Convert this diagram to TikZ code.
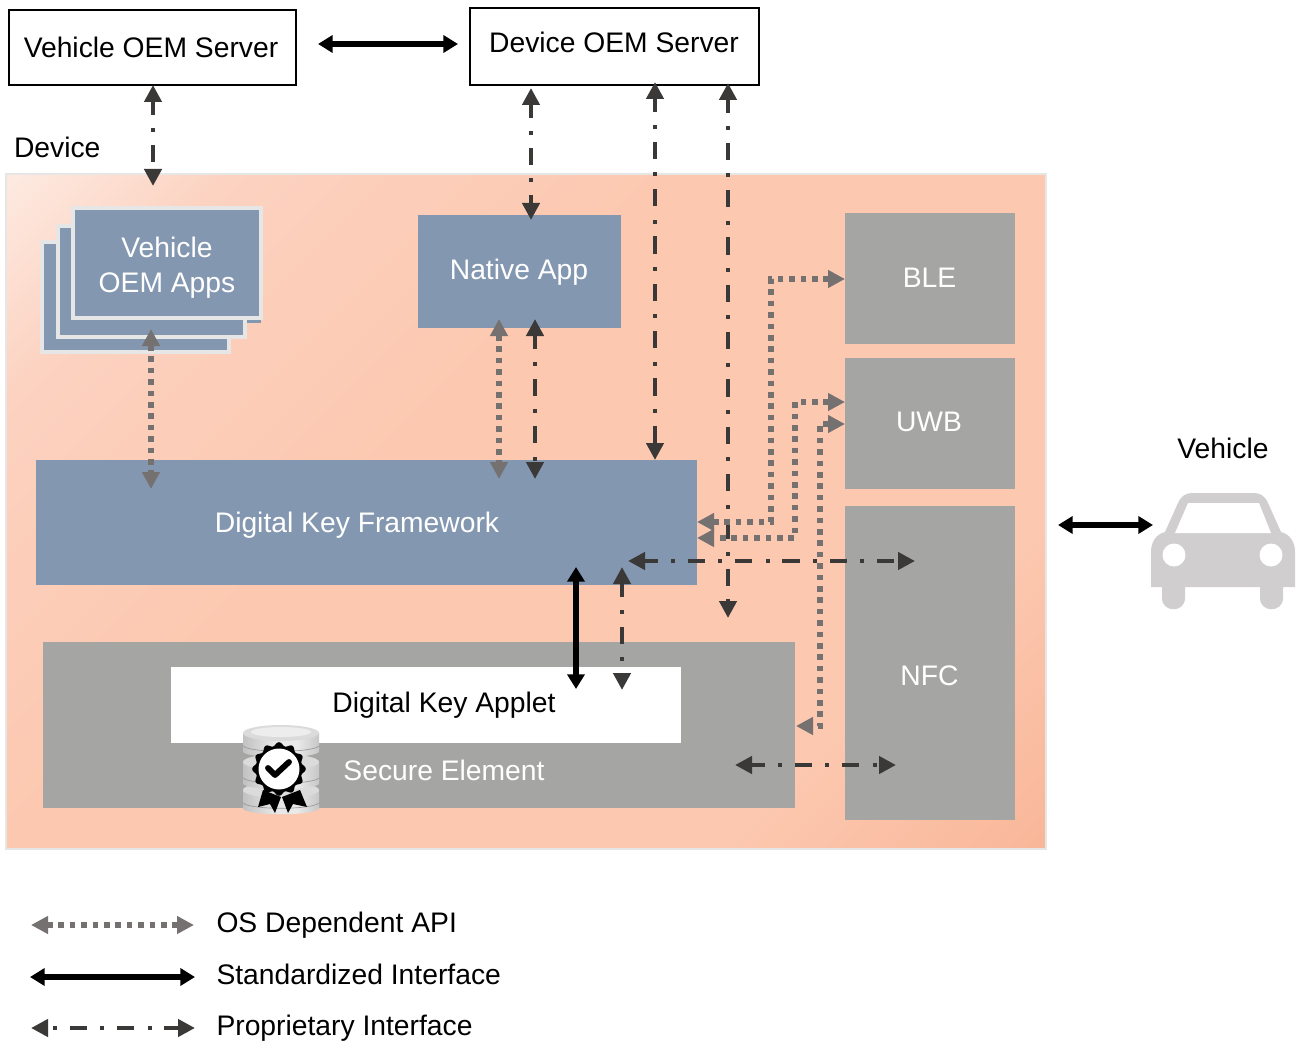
\documentclass[tikz,border=0pt]{standalone}
\usepackage{fontspec}
\setmainfont{Liberation Sans}
\usetikzlibrary{arrows.meta}
\definecolor{slate}{HTML}{8497B0}
\definecolor{stone}{HTML}{A5A5A3}
\definecolor{pale}{HTML}{E7E6E6}
\definecolor{apigray}{HTML}{757171}
\definecolor{propdark}{HTML}{3B3838}
\definecolor{cargray}{HTML}{D0CECE}
\definecolor{bgA}{HTML}{FDE9E0}
\definecolor{bgB}{HTML}{FCD2C0}
\definecolor{bgC}{HTML}{FCC8B0}
\definecolor{bgD}{HTML}{F9B799}
\pgfdeclarehorizontalshading{panelshade}{100bp}{color(0bp)=(bgA); color(15bp)=(bgA); color(24bp)=(bgB); color(42bp)=(bgC); color(72bp)=(bgC); color(85bp)=(bgD); color(100bp)=(bgD)}
\pgfdeclarehorizontalshading{discshade}{100bp}{color(0bp)=(black!24); color(25bp)=(black!24); color(45bp)=(black!10); color(60bp)=(black!8); color(75bp)=(black!22); color(100bp)=(black!22)}
\tikzset{
  lab/.style={font=\fontsize{21.2}{25}\selectfont, inner sep=0pt, outer sep=0pt, anchor=base},
  wlab/.style={lab, text=white},
  llab/.style={lab, anchor=base west},
  srv/.style={draw=black, line width=1.9pt, fill=white},
  blue/.style={fill=slate},
  stackcard/.style={fill=slate, draw=pale, line width=2.3pt},
  grey/.style={fill=stone},
  api/.style={draw=apigray, line width=4.2pt, dash pattern=on 4.2pt off 4.35pt, {Triangle[width=12.75pt,length=12.75pt]}-{Triangle[width=12.75pt,length=12.75pt]}},
  std/.style={draw=black, line width=3.8pt, {Triangle[width=12.75pt,length=11pt]}-{Triangle[width=12.75pt,length=11pt]}},
  prop/.style={draw=propdark, line width=3.5pt, dash pattern=on 13pt off 10pt on 3pt off 9.5pt, dash phase=2.6pt, {Triangle[width=12.75pt,length=12.75pt]}-{Triangle[width=12.75pt,length=12.75pt]}}
}
% style, name, x1, y1, x2, y2 (in reference pixels)
\newcommand{\pxbox}[6]{%
  \pgfmathsetmacro\bxw{(#5-#3)*0.75}%
  \pgfmathsetmacro\bxh{(#6-#4)*0.75}%
  \pgfmathsetmacro\bxc{(#5+#3)/2}%
  \pgfmathsetmacro\byc{(#6+#4)/2}%
  \node[#1, minimum width=\bxw pt, minimum height=\bxh pt, inner sep=0pt, outer sep=0pt] (#2) at (\bxc,\byc) {};%
}
\newcommand{\disc}[2]{% top centre y, bottom y
  \shade[shading=discshade] (243,#1) -- (243,#2-6) .. controls (250,#2+1) and (312,#2+1) .. (319,#2-6) -- (319,#1) -- cycle;
  \draw[black!40, line width=0.5pt] (243,#2-12) .. controls (250,#2-5) and (312,#2-5) .. (319,#2-12);
  \fill[black!14] (281,#1) ellipse [x radius=38, y radius=8];
}
\begin{document}
\begin{tikzpicture}[x=0.75pt,y=-0.75pt]
\useasboundingbox (0,0) rectangle (1299,1041);
% device panel
\pxbox{draw=pale, line width=2pt, shade, shading=panelshade, shading angle=-45}{device}{6}{174}{1046}{849}
% servers
\pxbox{srv}{vehsrv}{9}{10}{296}{85}
\pxbox{srv}{devsrv}{470}{8}{759}{85}
% app stack
\pxbox{stackcard}{appC}{42}{242}{229}{352}
\pxbox{blue}{appSliver}{245}{316}{261}{323}
\pxbox{stackcard}{appB}{58}{226}{245}{337}
\pxbox{stackcard}{appA}{73}{208}{261}{318}
% blocks
\pxbox{blue}{native}{418}{215}{621}{328}
\pxbox{blue}{framework}{36}{460}{697}{585}
\pxbox{grey}{secure}{43}{642}{795}{808}
\pxbox{fill=white}{applet}{171}{667}{681}{743}
\pxbox{grey}{ble}{845}{213}{1015}{344}
\pxbox{grey}{uwb}{845}{358}{1015}{489}
\pxbox{grey}{nfc}{845}{506}{1015}{820}
% labels
\node[lab] (tVs) at (151,58) {Vehicle OEM Server};
\node[lab] (tDs) at (614,53) {Device OEM Server};
\node[llab] (tDev) at (14,158) {Device};
\node[lab] (tCar) at (1223,458) {Vehicle};
\node[wlab] (tApp1) at (167,258) {Vehicle};
\node[wlab] (tApp2) at (167,292) {OEM Apps};
\node[wlab] (tNat) at (519,280) {Native App};
\node[wlab] (tBle) at (929.5,287) {BLE};
\node[wlab] (tUwb) at (929,431) {UWB};
\node[wlab] (tNfc) at (929.5,685) {NFC};
\node[wlab] (tFw) at (357,532) {Digital Key Framework};
\node[lab] (tApl) at (444,712) {Digital Key Applet};
\node[wlab] (tSe) at (444,780) {Secure Element};
\node[llab] (tL1) at (216.5,932) {OS Dependent API};
\node[llab] (tL2) at (216.5,984) {Standardized Interface};
\node[llab] (tL3) at (216.5,1035) {Proprietary Interface};
% secure-element icon: database stack with badge
\disc{790}{815}
\disc{762}{790}
\disc{733}{758}
\fill[black!7] (281,732) ellipse [x radius=30, y radius=5];
\fill[black] plot[domain=0:360,samples=145] ({279+(25+1.8*cos(12*\x))*cos(\x)},{769+(25+1.8*cos(12*\x))*sin(\x)}) -- cycle;
\fill[black] (263,790) -- (258,807) -- (270,804) -- (275,813) -- (281,797) -- cycle;
\fill[black] (282,797) -- (288,813) -- (293,804) -- (307,807) -- (300,790) -- cycle;
\fill[white] (279,769) circle [radius=20.5];
\draw[black, line width=4.4pt, line cap=round, line join=round] (268,768) -- (275,775) -- (289,762);
% car
\fill[cargray] (1151,587) -- (1151,552) .. controls (1151,541) and (1157,534) .. (1165,532) -- (1178,503) .. controls (1181,496) and (1186,493) .. (1192,493) -- (1254,493) .. controls (1260,493) and (1265,496) .. (1268,503) -- (1281,532) .. controls (1289,534) and (1295,541) .. (1295,552) -- (1295,587) -- (1283,587) -- (1283,598) .. controls (1283,613) and (1260,613) .. (1260,598) -- (1260,587) -- (1185,587) -- (1185,598) .. controls (1185,613) and (1162,613) .. (1162,598) -- (1162,587) -- cycle;
\fill[white] (1188,503) -- (1259,503) -- (1271,533) -- (1175,533) -- cycle;
\fill[white] (1174,555) circle [radius=11.5];
\fill[white] (1271,555) circle [radius=11.5];
% connector ends
\coordinate (srvL) at (318,44);
\coordinate (srvR) at (458,44);
\coordinate (vA) at (153,85);
\coordinate (vB) at (153,186);
\coordinate (nTop) at (531,88);
\coordinate (nBot) at (531,220);
\coordinate (fTop) at (655,82);
\coordinate (fBot) at (655,460);
\coordinate (sTop) at (728,83);
\coordinate (sBot) at (728,618);
\coordinate (aA) at (151,329);
\coordinate (aB) at (151,489);
\coordinate (nA1) at (499,319);
\coordinate (nB1) at (499,479);
\coordinate (nA2) at (535,319);
\coordinate (nB2) at (535,479);
\coordinate (bleIn) at (845,279);
\coordinate (bleC1) at (771,279);
\coordinate (bleC2) at (771,522);
\coordinate (bleOut) at (697,522);
\coordinate (uwbIn) at (845,402);
\coordinate (uwbC1) at (795,402);
\coordinate (uwbC2) at (795,538);
\coordinate (uwbOut) at (697,538);
\coordinate (seIn) at (845,424);
\coordinate (seC1) at (820,424);
\coordinate (seC2) at (820,726);
\coordinate (seOut) at (796,726);
\coordinate (hL) at (628,561);
\coordinate (hR) at (915,561);
\coordinate (dkA) at (576,567);
\coordinate (dkB) at (576,689);
\coordinate (dpA) at (622,567);
\coordinate (dpB) at (622,690);
\coordinate (eL) at (735,765);
\coordinate (eR) at (896,765);
\coordinate (cL) at (1058,525);
\coordinate (cR) at (1153,525);
\coordinate (k1a) at (31,925);
\coordinate (k1b) at (194,925);
\coordinate (k2a) at (30,977);
\coordinate (k2b) at (195,977);
\coordinate (k3a) at (31,1028);
\coordinate (k3b) at (195,1028);
% connectors
\draw[std] (srvL) -- (srvR);
\draw[prop] (vA) -- (vB);
\draw[prop] (nTop) -- (nBot);
\draw[prop] (fTop) -- (fBot);
\draw[prop] (sTop) -- (sBot);
\draw[api] (aA) -- (aB);
\draw[api] (nA1) -- (nB1);
\draw[prop] (nA2) -- (nB2);
\draw[api] (bleIn) -- (bleC1) -- (bleC2) -- (bleOut);
\draw[api] (uwbIn) -- (uwbC1) -- (uwbC2) -- (uwbOut);
\draw[api] (seIn) -- (seC1) -- (seC2) -- (seOut);
\draw[prop] (hL) -- (hR);
\draw[std] (dkA) -- (dkB);
\draw[prop] (dpA) -- (dpB);
\draw[prop] (eL) -- (eR);
\draw[std] (cL) -- (cR);
\draw[api] (k1a) -- (k1b);
\draw[std] (k2a) -- (k2b);
\draw[prop, dash phase=18.4pt] (k3a) -- (k3b);
\end{tikzpicture}
\end{document}
